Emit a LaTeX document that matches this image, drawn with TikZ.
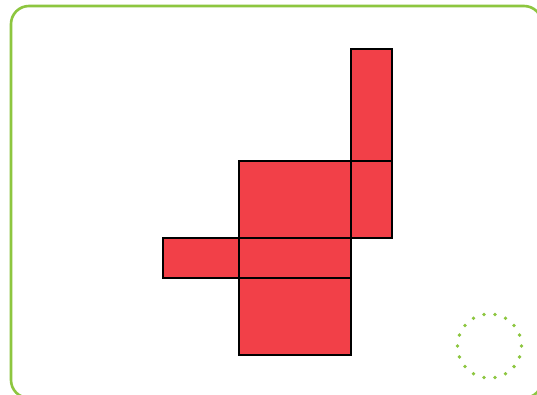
\documentclass[tikz,border=0pt]{standalone}
\definecolor{netred}{RGB}{242,64,72}
\definecolor{framegreen}{RGB}{141,198,63}
\begin{document}
\begin{tikzpicture}[x=1pt,y=-1pt,
  face/.style={fill=netred,draw=black,line width=1.6pt},
  frame/.style={draw=framegreen,line width=2.6pt,rounded corners=18pt,fill=white},
  ringdot/.style={fill=framegreen}]
\useasboundingbox (0,0) rectangle (537,394);
\fill[white] (0,0) rectangle (537,394);
\draw[frame] (11,6) rectangle (542,398);
\draw[face] (163,238) rectangle (239,278);
\draw[face] (239,161) rectangle (351,238);
\draw[face] (239,238) rectangle (351,278);
\draw[face] (239,278) rectangle (351,355);
\draw[face] (351,49) rectangle (392,161);
\draw[face] (351,161) rectangle (392,238);
\coordinate (ring) at (489.5,346);
\foreach \a in {0,20,...,340}
  \fill[ringdot] (ring) ++(\a:32) circle [radius=1.9];
\end{tikzpicture}
\end{document}
